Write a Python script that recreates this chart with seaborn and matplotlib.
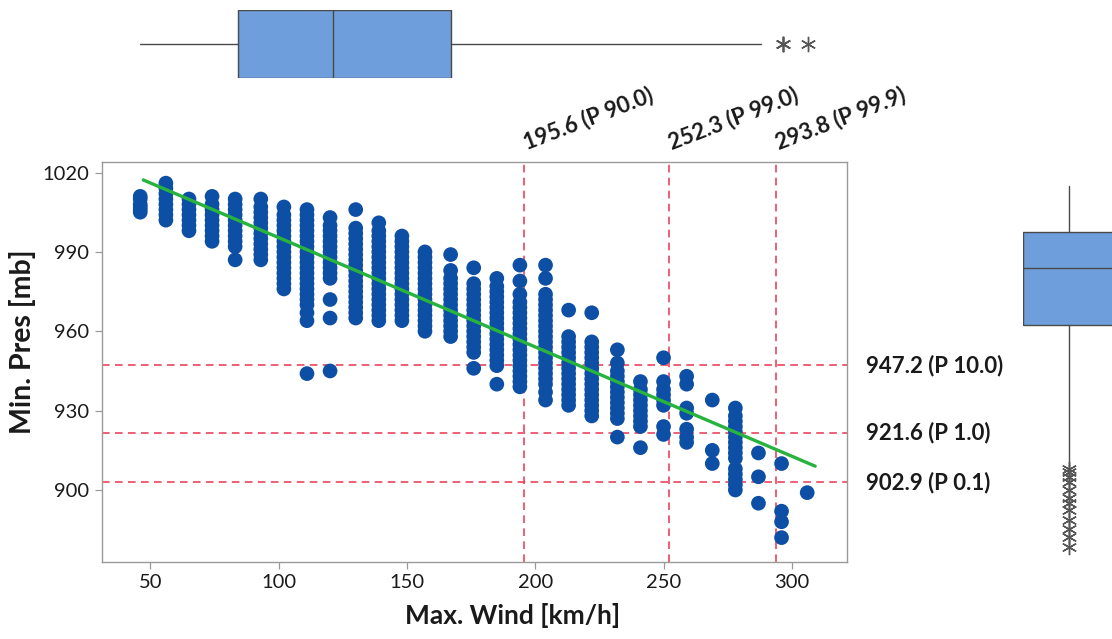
import matplotlib
matplotlib.use("Agg")
import matplotlib.pyplot as plt
import numpy as np
import pandas as pd
import seaborn as sns

# ---- data -------------------------------------------------------------
# Maximum sustained wind (km/h) of each observation column
wind_levels = [46, 56, 65, 74, 83, 93, 102, 111, 120, 130, 139, 148, 157, 167,
               176, 185, 194, 204, 213, 222, 232, 241, 250, 259, 269, 278, 287,
               296, 306]

# Minimum central pressure (mb) recorded at each wind level
pressures = [
    [1005, 1006, 1007, 1008, 1010, 1011],
    [1002, 1004, 1006, 1008, 1010, 1012, 1014, 1016],
    [998, 1000, 1002, 1004, 1006, 1008, 1010],
    [994, 996, 998, 1000, 1002, 1004, 1006, 1008, 1011],
    [987, 992, 994, 996, 998, 1000, 1002, 1004, 1006, 1008, 1010],
    [987, 989, 991, 993, 995, 997, 999, 1001, 1003, 1005, 1007, 1010],
    [976, 978, 980, 982, 984, 986, 988, 990, 992, 994, 996, 998, 1000, 1002,
     1004, 1007],
    [944, 964, 967, 970, 972, 974, 976, 978, 980, 982, 984, 986, 988, 990, 992,
     994, 996, 998, 1000, 1002, 1004, 1006],
    [945, 965, 972, 980, 982, 984, 986, 988, 990, 992, 994, 996, 998, 1000,
     1003],
    [965, 967, 969, 971, 973, 975, 977, 979, 981, 983, 985, 987, 989, 991, 993,
     995, 997, 999, 1006],
    [964, 966, 968, 970, 972, 974, 976, 978, 980, 982, 984, 986, 988, 990, 992,
     994, 996, 998, 1001],
    [964, 966, 968, 970, 972, 974, 976, 978, 980, 982, 984, 986, 988, 990, 992,
     994, 996],
    [960, 962, 964, 966, 968, 970, 972, 974, 976, 978, 980, 982, 984, 986, 988,
     990],
    [958, 960, 962, 964, 966, 968, 970, 972, 974, 976, 978, 980, 983, 989],
    [946, 952, 954, 956, 958, 960, 962, 964, 966, 968, 970, 972, 974, 976, 978,
     984],
    [940, 947, 949, 951, 953, 955, 957, 959, 961, 963, 965, 967, 969, 971, 973,
     975, 977, 980],
    [939, 941, 943, 945, 947, 949, 951, 953, 955, 957, 959, 961, 963, 965, 967,
     969, 971, 974, 979, 985],
    [934, 937, 940, 942, 944, 946, 948, 950, 952, 954, 956, 958, 960, 962, 964,
     966, 968, 970, 972, 974, 980, 985],
    [932, 934, 936, 938, 940, 942, 944, 946, 948, 950, 952, 954, 956, 958, 968],
    [928, 930, 932, 934, 936, 938, 940, 942, 944, 946, 948, 950, 952, 954, 956,
     967],
    [920, 927, 929, 931, 933, 935, 937, 939, 941, 943, 945, 948, 953],
    [916, 924, 926, 928, 930, 932, 934, 936, 938, 941],
    [921, 924, 932, 934, 936, 938, 941, 950],
    [918, 920, 923, 929, 931, 940, 943],
    [910, 915, 934],
    [900, 902, 904, 906, 908, 912, 914, 916, 918, 920, 922, 924, 926, 928, 931],
    [895, 905, 914],
    [882, 888, 892, 910],
    [899],
]

# Least-squares trend of pressure on wind
fit_intercept = 1036.7
fit_slope = -0.4131
fit_wind = [47.2, 309.1]

# Percentile thresholds
wind_pct_values = [195.6, 252.3, 293.8]
wind_pct_labels = ["195.6 (P 90.0)", "252.3 (P 99.0)", "293.8 (P 99.9)"]
pres_pct_values = [947.2, 921.6, 902.9]
pres_pct_labels = ["947.2 (P 10.0)", "921.6 (P 1.0)", "902.9 (P 0.1)"]

# Box-plot summaries of each marginal distribution
wind_box = dict(whislo=46, q1=84, med=121, q3=167, whishi=288,
                fliers=[296.6, 296.6, 296.6, 306.3])
pres_box = dict(whislo=910, q1=962.5, med=984, q3=997.5, whishi=1015,
                fliers=[908, 906.8, 905, 903, 900, 896.8, 895, 892.4, 888.6,
                        885.4, 882.3, 878.5])

x_ticks = [50, 100, 150, 200, 250, 300]
y_ticks = [900, 930, 960, 990, 1020]

# ---- styling ----------------------------------------------------------
sns.set_style("white")
plt.rcParams["font.family"] = ["Lato", "DejaVu Sans"]

dot_color = "#0E4FA6"
fit_color = "#27B33E"
ref_color = "#E8364F"
box_face = "#6E9EDB"
box_edge = "#4A4A4A"
frame_color = "#9A9A9A"
text_color = "#1A1A1A"

W, H = 1112, 639
fig = plt.figure(figsize=(W / 100, H / 100), dpi=100)


def frac(left, top, right, bottom):
    return [left / W, 1 - bottom / H, (right - left) / W, (bottom - top) / H]


ax = fig.add_axes(frac(101.5, 161.7, 846.7, 561.7))
ax_top = fig.add_axes(frac(101.5, 10, 846.7, 78), sharex=ax)
ax_right = fig.add_axes(frac(1023, 161.7, 1115, 561.7), sharey=ax)

# ---- scatter ----------------------------------------------------------
df = pd.DataFrame({
    "Max. Wind [km/h]": np.repeat(wind_levels, [len(p) for p in pressures]),
    "Min. Pres [mb]": np.concatenate(pressures),
})
sns.scatterplot(data=df, x="Max. Wind [km/h]", y="Min. Pres [mb]", ax=ax,
                s=112, color=dot_color, edgecolor="none", linewidth=0,
                zorder=3)

fit_df = pd.DataFrame({"x": fit_wind,
                       "y": [fit_intercept + fit_slope * w for w in fit_wind]})
sns.lineplot(data=fit_df, x="x", y="y", ax=ax, color=fit_color, lw=2.4,
             zorder=4)

for v in wind_pct_values:
    ax.axvline(v, color=ref_color, lw=1.1, ls=(0, (5, 3.5)), zorder=2)
for v in pres_pct_values:
    ax.axhline(v, color=ref_color, lw=1.1, ls=(0, (5, 3.5)), zorder=2)

ax.set_xlim(30.9, 321.4)
ax.set_ylim(872.9, 1024.1)
ax.set_xticks(x_ticks)
ax.set_yticks(y_ticks)
ax.set_xlabel("Max. Wind [km/h]", fontsize=19, fontweight="bold",
              color=text_color)
ax.set_ylabel("Min. Pres [mb]", fontsize=20.5, fontweight="bold",
              color=text_color)
ax.xaxis.set_label_coords(0.551, -0.103)
ax.yaxis.set_label_coords(-0.088, 0.55)
ax.tick_params(axis="both", which="both", direction="out", length=5,
               width=0.9, color=frame_color, labelsize=14.5,
               labelcolor=text_color, pad=4, bottom=True, left=True)
for sp in ax.spines.values():
    sp.set_color(frame_color)
    sp.set_linewidth(1.0)

for v, lab in zip(wind_pct_values, wind_pct_labels):
    ax.annotate(lab, xy=(v, 1), xycoords=("data", "axes fraction"),
                xytext=(3, 6), textcoords="offset points", rotation=21,
                rotation_mode="anchor", ha="left", va="bottom",
                fontsize=16, fontweight="bold", color=text_color,
                annotation_clip=False)
for v, lab in zip(pres_pct_values, pres_pct_labels):
    ax.annotate(lab, xy=(1, v), xycoords=("axes fraction", "data"),
                xytext=(14, 0), textcoords="offset points",
                ha="left", va="center", fontsize=16, fontweight="bold",
                color=text_color, annotation_clip=False)

# ---- marginal box plots ----------------------------------------------
asterisk = (6, 2, 0)
flier_style = dict(marker=asterisk, markersize=11, markeredgecolor="#555555",
                   markeredgewidth=1.0, linestyle="none")
box_kw = dict(widths=1.0, patch_artist=True, showcaps=False,
              boxprops=dict(facecolor=box_face, edgecolor=box_edge, lw=1.0),
              medianprops=dict(color=box_edge, lw=1.0),
              whiskerprops=dict(color=box_edge, lw=1.0),
              flierprops=flier_style, manage_ticks=False)

ax_top.bxp([wind_box], positions=[0], orientation="horizontal", **box_kw)
ax_top.set_ylim(-0.5, 0.5)

ax_right.bxp([pres_box], positions=[0], orientation="vertical", **box_kw)
ax_right.set_xlim(-0.5, 0.5)

for a in (ax_top, ax_right):
    a.set_facecolor("none")
    for sp in a.spines.values():
        sp.set_visible(False)
    a.tick_params(left=False, bottom=False, labelleft=False,
                  labelbottom=False)
    a.set_xlabel("")
    a.set_ylabel("")

fig.savefig("out.png", dpi=100)
